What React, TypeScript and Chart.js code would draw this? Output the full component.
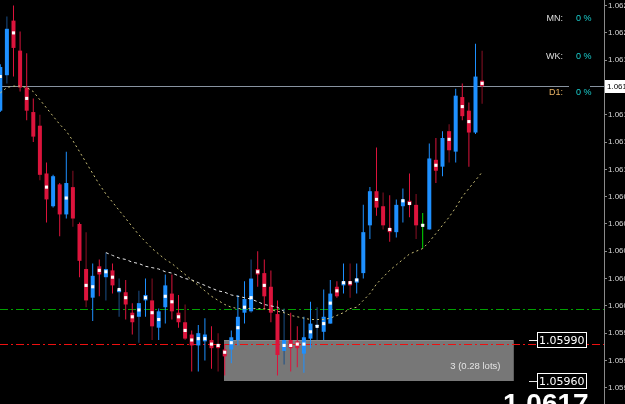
import { useEffect, useRef } from 'react';
import { Chart, registerables } from 'chart.js';

Chart.register(...registerables);

// ---- data (EURUSD-like price bars) ----
const OPEN = [
  1.06158, 1.06184, 1.06224, 1.06202, 1.06175, 1.06157, 1.06147, 1.06112, 1.06088, 1.06104,
  1.06082, 1.06102, 1.06075, 1.06042, 1.06021, 1.06044, 1.06036, 1.06041, 1.06025, 1.06025,
  1.06010, 1.06007, 1.06019, 1.06019, 1.05999, 1.06014, 1.06024, 1.06010, 1.06003, 1.05994,
  1.05986, 1.05989, 1.05990, 1.05987, 1.05983, 1.05983, 1.05990, 1.06010, 1.06011, 1.06042,
  1.06039, 1.06029, 1.06009, 1.05982, 1.05990, 1.05989, 1.05980, 1.05991, 1.06000, 1.05996,
  1.06002, 1.06029, 1.06030, 1.06033, 1.06032, 1.06039, 1.06074, 1.06099, 1.06088, 1.06072,
  1.06069, 1.06088, 1.06092, 1.06089, 1.06074, 1.06071, 1.06122, 1.06117, 1.06143, 1.06128,
  1.06168, 1.06158, 1.06142, 1.06180,
];
const HIGH = [
  1.06192, 1.06227, 1.06235, 1.06216, 1.06200, 1.06167, 1.06155, 1.06120, 1.06111, 1.06105,
  1.06128, 1.06114, 1.06076, 1.06069, 1.06046, 1.06049, 1.06054, 1.06046, 1.06035, 1.06034,
  1.06017, 1.06026, 1.06035, 1.06035, 1.06013, 1.06038, 1.06038, 1.06023, 1.06016, 1.05997,
  1.06001, 1.06006, 1.06000, 1.05995, 1.05987, 1.05997, 1.06023, 1.06033, 1.06049, 1.06055,
  1.06049, 1.06041, 1.06019, 1.06013, 1.06010, 1.06000, 1.06007, 1.06018, 1.06014, 1.06027,
  1.06034, 1.06033, 1.06046, 1.06046, 1.06046, 1.06089, 1.06102, 1.06131, 1.06098, 1.06096,
  1.06093, 1.06101, 1.06112, 1.06097, 1.06083, 1.06134, 1.06138, 1.06143, 1.06148, 1.06174,
  1.06178, 1.06164, 1.06207, 1.06202,
];
const LOW = [
  1.06157, 1.06178, 1.06183, 1.06172, 1.06151, 1.06135, 1.06107, 1.06076, 1.06087, 1.06066,
  1.06079, 1.06073, 1.06036, 1.06014, 1.06004, 1.06022, 1.06019, 1.06024, 1.06007, 1.06005,
  1.05994, 1.05988, 1.06007, 1.05990, 1.05990, 1.06002, 1.06005, 1.05999, 1.05990, 1.05967,
  1.05967, 1.05975, 1.05969, 1.05967, 1.05964, 1.05973, 1.05986, 1.06002, 1.06010, 1.06029,
  1.06012, 1.06003, 1.05964, 1.05972, 1.05967, 1.05970, 1.05966, 1.05984, 1.05990, 1.05990,
  1.06002, 1.06021, 1.06024, 1.06021, 1.06024, 1.06035, 1.06064, 1.06081, 1.06071, 1.06062,
  1.06065, 1.06076, 1.06080, 1.06064, 1.06057, 1.06071, 1.06105, 1.06110, 1.06120, 1.06120,
  1.06151, 1.06117, 1.06141, 1.06163,
];
const CLOSE = [
  1.06190, 1.06218, 1.06204, 1.06175, 1.06158, 1.06139, 1.06111, 1.06093, 1.06110, 1.06082,
  1.06105, 1.06079, 1.06048, 1.06019, 1.06037, 1.06038, 1.06042, 1.06030, 1.06027, 1.06016,
  1.06003, 1.06017, 1.06023, 1.06000, 1.06011, 1.06030, 1.06011, 1.06003, 1.05991, 1.05986,
  1.05995, 1.05994, 1.05984, 1.05984, 1.05978, 1.05992, 1.06007, 1.06020, 1.06035, 1.06038,
  1.06022, 1.06010, 1.05979, 1.05990, 1.05984, 1.05984, 1.05992, 1.06002, 1.06001, 1.06007,
  1.06024, 1.06022, 1.06033, 1.06030, 1.06035, 1.06069, 1.06099, 1.06087, 1.06074, 1.06069,
  1.06089, 1.06093, 1.06089, 1.06074, 1.06074, 1.06123, 1.06114, 1.06138, 1.06129, 1.06169,
  1.06154, 1.06142, 1.06183, 1.06176,
];
// bars whose shadow is drawn in the darker shade
const DARK_WICK = [1, 6, 11, 13, 16, 18, 21, 23, 28, 33, 38, 43, 48, 53, 58, 63, 68, 73];

// moving average (yellow dotted)
const MA = [
  1.06171, 1.06175, 1.06176, 1.06176, 1.06175, 1.06172, 1.06166, 1.06160, 1.06154, 1.06148,
  1.06143, 1.06136, 1.06128, 1.06120, 1.06112, 1.06104, 1.06097, 1.06091, 1.06085, 1.06079,
  1.06073, 1.06067, 1.06062, 1.06057, 1.06053, 1.06049, 1.06046, 1.06042, 1.06038, 1.06034,
  1.06030, 1.06026, 1.06022, 1.06019, 1.06016, 1.06014, 1.06013, 1.06013, 1.06013, 1.06013,
  1.06013, 1.06012, 1.06011, 1.06010, 1.06008, 1.06007, 1.06006, 1.06005, 1.06005, 1.06005,
  1.06006, 1.06008, 1.06010, 1.06013, 1.06014, 1.06019, 1.06024, 1.06031, 1.06036, 1.06041,
  1.06045, 1.06049, 1.06053, 1.06055, 1.06057, 1.06062, 1.06068, 1.06074, 1.06080, 1.06087,
  1.06095, 1.06101, 1.06107, 1.06113,
];

// white dotted line (starts at bar TREND_START)
const TREND_START = 16;
const TREND = [
  1.06054, 1.06052, 1.06050, 1.06049, 1.06047, 1.06046, 1.06044, 1.06043, 1.06042, 1.06040,
  1.06039, 1.06037, 1.06035, 1.06034, 1.06032, 1.06030, 1.06028, 1.06026, 1.06025, 1.06023,
  1.06022, 1.06021, 1.06020, 1.06018, 1.06016, 1.06015, 1.06014, 1.06011,
];

// small white marks on bars
const MARK_IDX = [
  0, 2, 4, 7, 10, 13, 14, 15, 16, 17, 18, 19, 20, 21, 22, 23, 24, 25, 26, 27, 28, 29, 30, 31,
  32, 33, 34, 35, 36, 37, 38, 39, 40, 43, 44, 45, 46, 47, 48, 49, 50, 51, 52, 53, 54, 57, 59,
  61, 62, 64, 66, 68, 70, 71, 73,
];
const MARK_VAL = [
  1.06183, 1.06215, 1.06167, 1.06102, 1.06094, 1.06030, 1.06029, 1.06041, 1.06040, 1.06036,
  1.06027, 1.06021, 1.06007, 1.06012, 1.06021, 1.06010, 1.06005, 1.06022, 1.06018, 1.06007,
  1.05997, 1.05990, 1.05991, 1.05991, 1.05987, 1.05986, 1.05981, 1.05988, 1.05999, 1.06014,
  1.06021, 1.06040, 1.06030, 1.05986, 1.05986, 1.05987, 1.05987, 1.05996, 1.06000, 1.06002,
  1.06017, 1.06026, 1.06032, 1.06032, 1.06034, 1.06093, 1.06071, 1.06092, 1.06090, 1.06074,
  1.06118, 1.06137, 1.06161, 1.06150, 1.06178,
];

// price scale
const TICK_VALUES = [
  1.05955, 1.05975, 1.05995, 1.06015, 1.06035, 1.06055, 1.06075, 1.06095,
  1.06115, 1.06135, 1.06155, 1.06175, 1.06195, 1.06215, 1.06235,
];
const Y_MIN = 1.059431;
const Y_MAX = 1.062391;
const X_MIN = -0.045;
const X_MAX = 91.47;

// levels and objects
const BID = 1.06176;
const BID_TEXT = '1.06176';
const BIG_PRICE = '1.0617';
const LEVEL_GREEN = 1.06013;
const LEVEL_RED = 1.05987;
const ZONE_FROM = 33.9;
const ZONE_TO = 77.9;
const ZONE_HIGH = 1.0599;
const ZONE_LOW = 1.0596;
const ZONE_TEXT = '3 (0.28 lots)';
const PRICE_LABELS = [1.0599, 1.0596];
const PRICE_LABEL_TEXT = ['1.05990', '1.05960'];
const TF_NAMES = ['MN:', 'WK:', 'D1:'];
const TF_VALUES = ['0 %', '0 %', '0 %'];

const UP = '#1e90ff';
const DOWN = '#dc143c';
const FLAT = '#00e000';
const UP_DARK = '#1b4f88';
const DOWN_DARK = '#8a1024';

const idx = OPEN.map((_, i) => i);
const bodyColor = idx.map((i) => (CLOSE[i] > OPEN[i] ? UP : CLOSE[i] < OPEN[i] ? DOWN : FLAT));
const wickColor = idx.map((i) => {
  const dark = DARK_WICK.includes(i);
  if (CLOSE[i] > OPEN[i]) return dark ? UP_DARK : UP;
  if (CLOSE[i] < OPEN[i]) return dark ? DOWN_DARK : DOWN;
  return FLAT;
});

const overlay = {
  id: 'overlay',
  beforeDraw(chart: any) {
    const { ctx, width, height } = chart;
    ctx.save();
    ctx.fillStyle = '#000';
    ctx.fillRect(0, 0, width, height);
    ctx.restore();
  },
  beforeDatasetsDraw(chart: any) {
    const { ctx, chartArea: a } = chart;
    const x = chart.scales.x;
    const y = chart.scales.y;
    ctx.save();
    // order zone
    const zx0 = Math.round(x.getPixelForValue(ZONE_FROM));
    const zx1 = Math.round(x.getPixelForValue(ZONE_TO));
    const zy0 = Math.round(y.getPixelForValue(ZONE_HIGH));
    const zy1 = Math.round(y.getPixelForValue(ZONE_LOW));
    ctx.fillStyle = '#777777';
    ctx.fillRect(zx0, zy0, zx1 - zx0, zy1 - zy0);
    ctx.fillStyle = '#8c8c8c';
    ctx.fillRect(zx0, zy0, zx1 - zx0, 1);
    ctx.fillStyle = '#5e5e5e';
    ctx.fillRect(zx1 - 1, zy0, 1, zy1 - zy0);

    // dash-dot levels drawn as filled 1px segments
    const dashDot = (v: number, color: string) => {
      const py = Math.round(y.getPixelForValue(v));
      ctx.fillStyle = color;
      const pattern = [8, 3, 2, 3];
      let px = a.left;
      let k = 0;
      while (px < a.right) {
        const len = pattern[k % 4];
        if (k % 2 === 0) ctx.fillRect(px, py, Math.min(len, a.right - px), 1);
        px += len;
        k++;
      }
    };
    dashDot(LEVEL_GREEN, '#00a000');
    dashDot(LEVEL_RED, '#ee1010');

    const by = Math.round(y.getPixelForValue(BID));
    ctx.fillStyle = '#8893a0';
    ctx.fillRect(a.left, by, a.right - a.left, 1);
    ctx.restore();
  },
  afterDraw(chart: any) {
    const { ctx, chartArea: a } = chart;
    const x = chart.scales.x;
    const y = chart.scales.y;
    ctx.save();
    ctx.setLineDash([]);

    // zone text
    const zx1 = x.getPixelForValue(ZONE_TO);
    const zy1 = y.getPixelForValue(ZONE_LOW);
    ctx.font = '9.5px "Liberation Sans"';
    ctx.fillStyle = '#e4e4e4';
    ctx.textAlign = 'right';
    ctx.textBaseline = 'middle';
    ctx.fillText(ZONE_TEXT, zx1 - 14, zy1 - 15);

    // price labels of the zone
    PRICE_LABELS.forEach((v, k) => {
      const py = Math.round(y.getPixelForValue(v));
      ctx.fillStyle = '#e8e8e8';
      ctx.fillRect(529, py, 8, 1);
      ctx.fillStyle = '#000';
      ctx.fillRect(537, py - 8, 50, 16);
      ctx.strokeStyle = '#ffffff';
      ctx.lineWidth = 1;
      ctx.strokeRect(537.5, py - 7.5, 49, 15);
      ctx.font = '11px "DejaVu Sans"';
      ctx.fillStyle = '#ffffff';
      ctx.textAlign = 'left';
      ctx.textBaseline = 'middle';
      ctx.fillText(PRICE_LABEL_TEXT[k], 539, py + 1);
    });

    // big price
    ctx.font = 'bold 28px "Liberation Sans"';
    ctx.fillStyle = '#ffffff';
    ctx.textAlign = 'left';
    ctx.textBaseline = 'alphabetic';
    ctx.fillText(BIG_PRICE, 503, 413);

    // timeframe panel
    const rowsY = [19, 57, 93];
    ctx.fillStyle = '#000';
    ctx.fillRect(569, 81, 21, 13);
    TF_NAMES.forEach((name, k) => {
      ctx.font = '9px "Liberation Sans"';
      ctx.textBaseline = 'middle';
      ctx.textAlign = 'right';
      ctx.fillStyle = name === 'D1:' ? '#eab466' : '#dedede';
      ctx.fillText(name, 563, rowsY[k]);
      ctx.textAlign = 'left';
      ctx.fillStyle = '#1ad0d0';
      ctx.fillText(TF_VALUES[k], 576, rowsY[k]);
    });

    // bid box on the price axis
    const by = Math.round(y.getPixelForValue(BID));
    ctx.fillStyle = '#ffffff';
    ctx.fillRect(a.right + 1, by - 6, 30, 13);
    ctx.fillStyle = '#000';
    ctx.font = '8px "Liberation Sans"';
    ctx.textAlign = 'left';
    ctx.textBaseline = 'middle';
    ctx.fillText(BID_TEXT, a.right + 3, by + 1);
    ctx.restore();
  },
};

export default function App() {
  const ref = useRef<HTMLCanvasElement>(null);

  useEffect(() => {
    const canvas = ref.current;
    if (!canvas) return;
    const chart = new Chart(canvas, {
      type: 'bar',
      data: {
        datasets: [
          {
            type: 'scatter',
            data: MARK_IDX.map((i, k) => ({ x: i, y: MARK_VAL[k] })),
            backgroundColor: '#ffffff',
            borderWidth: 0,
            pointStyle: 'rect',
            pointRadius: 2.2,
            order: 0,
          } as any,
          {
            type: 'line',
            data: MA.map((v, i) => ({ x: i, y: v })),
            borderColor: '#cbc078',
            borderWidth: 1,
            borderDash: [2, 3],
            pointRadius: 0,
            tension: 0,
            order: 1,
          } as any,
          {
            type: 'line',
            data: TREND.map((v, k) => ({ x: TREND_START + k, y: v })),
            borderColor: '#e8e8e8',
            borderWidth: 1,
            borderDash: [3, 3],
            pointRadius: 0,
            tension: 0,
            order: 1,
          } as any,
          {
            type: 'bar',
            data: idx.map((i) => ({ x: i, y: [OPEN[i], CLOSE[i]] })),
            backgroundColor: bodyColor,
            borderWidth: 0,
            barThickness: 4,
            minBarLength: 1,
            grouped: false,
            inflateAmount: 0,
            order: 2,
          } as any,
          {
            type: 'bar',
            data: idx.map((i) => ({ x: i, y: [LOW[i], HIGH[i]] })),
            backgroundColor: wickColor,
            borderWidth: 0,
            barThickness: 1,
            grouped: false,
            inflateAmount: 0,
            order: 3,
          } as any,
        ],
      },
      options: {
        animation: false,
        responsive: false,
        maintainAspectRatio: false,
        devicePixelRatio: 1,
        events: [],
        layout: { padding: 0, autoPadding: false } as any,
        plugins: {
          legend: { display: false },
          tooltip: { enabled: false },
        },
        scales: {
          x: {
            type: 'linear',
            display: false,
            min: X_MIN,
            max: X_MAX,
            offset: false,
          },
          y: {
            type: 'linear',
            position: 'right',
            min: Y_MIN,
            max: Y_MAX,
            border: { display: true, color: '#8a8a8a', width: 1 },
            grid: {
              display: true,
              drawOnChartArea: false,
              drawTicks: true,
              tickLength: 3,
              color: '#8a8a8a',
            },
            ticks: {
              color: '#d6d6d6',
              font: { family: 'Liberation Sans', size: 8 },
              padding: 1,
              callback: (v: any) => Number(v).toFixed(5),
            },
            afterBuildTicks: (scale: any) => {
              scale.ticks = TICK_VALUES.map((value) => ({ value }));
            },
            afterFit: (scale: any) => {
              scale.width = 21;
              scale.paddingTop = 0;
              scale.paddingBottom = 0;
            },
          } as any,
        },
      },
      plugins: [overlay],
    });
    return () => chart.destroy();
  }, []);

  return (
    <div style={{ position: 'fixed', left: 0, top: 0, width: 625, height: 404, background: '#000' }}>
      <canvas ref={ref} width={625} height={404} style={{ display: 'block', width: 625, height: 404 }} />
    </div>
  );
}
